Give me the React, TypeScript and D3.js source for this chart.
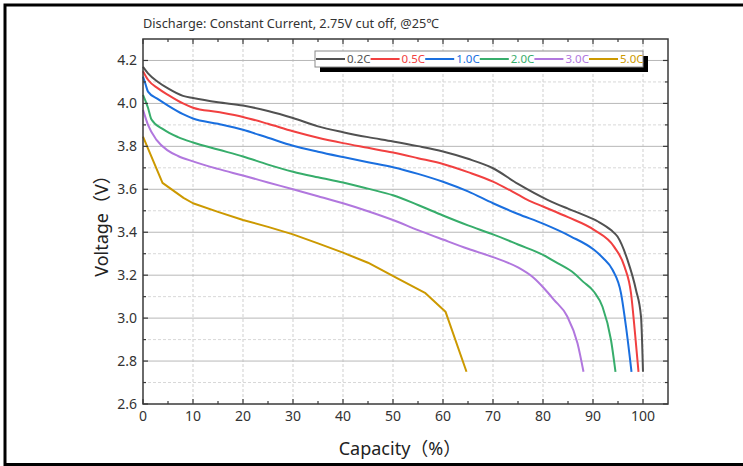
import { useEffect, useRef } from 'react'
import * as d3 from 'd3'

type Pt = [number, number]

// discharge curves, [capacity %, voltage V]
const rate02: Pt[] = [
  [0, 4.17], [1, 4.14], [3, 4.1], [5, 4.07], [8, 4.035], [10, 4.025], [15, 4.005], [20, 3.99],
  [25, 3.965], [30, 3.932], [35, 3.893], [40, 3.866], [45, 3.843], [50, 3.823], [55, 3.801],
  [60, 3.776], [65, 3.742], [70, 3.698], [75, 3.625], [80.9, 3.551], [85, 3.51], [88.2, 3.48],
  [91, 3.45], [93.6, 3.41], [94.9, 3.38], [96.9, 3.271], [98.6, 3.131], [99.6, 3.007], [100, 2.75],
]
const rate05: Pt[] = [
  [0, 4.15], [1, 4.11], [3, 4.07], [5, 4.04], [8, 4.0], [10, 3.98], [15, 3.96], [20, 3.937],
  [25, 3.905], [30, 3.87], [35, 3.84], [40, 3.815], [45, 3.793], [50, 3.771], [55, 3.745],
  [60, 3.718], [65, 3.68], [70, 3.636], [75, 3.575], [76.9, 3.551], [80, 3.52], [85, 3.47],
  [90.2, 3.411], [94.2, 3.333], [96.3, 3.24], [97.6, 3.116], [98.4, 2.93], [99.1, 2.75],
]
const rate10: Pt[] = [
  [0, 4.125], [0.5, 4.09], [1, 4.055], [3, 4.02], [5, 3.99], [8, 3.95], [10, 3.93], [15, 3.905],
  [20, 3.877], [25, 3.84], [30, 3.803], [35, 3.775], [40, 3.75], [45, 3.726], [50, 3.703],
  [55, 3.672], [60, 3.635], [65, 3.59], [70, 3.535], [75, 3.485], [80, 3.44], [85.6, 3.38],
  [90.2, 3.318], [92, 3.28], [93.9, 3.225], [95.6, 3.116], [96.6, 2.96], [97.7, 2.75],
]
const rate20: Pt[] = [
  [0, 4.04], [1, 3.98], [1.7, 3.925], [4, 3.88], [7, 3.843], [10, 3.818], [15, 3.785],
  [20, 3.753], [25, 3.715], [30, 3.682], [35, 3.656], [40, 3.632], [45, 3.603], [50, 3.572],
  [55, 3.527], [60, 3.478], [65, 3.432], [70, 3.39], [75, 3.343], [80, 3.295], [83, 3.255],
  [86.2, 3.209], [88, 3.17], [90.2, 3.123], [91.9, 3.053], [93.6, 2.898], [94.5, 2.75],
]
const rate30: Pt[] = [
  [0, 3.97], [1, 3.9], [2.7, 3.83], [5, 3.78], [7, 3.755], [10, 3.73], [15, 3.695], [20, 3.664],
  [25, 3.632], [30, 3.6], [35, 3.568], [40, 3.535], [45, 3.498], [50, 3.457], [55, 3.41],
  [60, 3.366], [65, 3.323], [70, 3.284], [75, 3.236], [78, 3.19], [80.2, 3.139],
  [82.2, 3.085], [84.8, 3.01], [86.9, 2.883], [88.1, 2.75],
]
const rate50: Pt[] = [
  [0, 3.845], [3.9, 3.63], [8.1, 3.56], [10, 3.535], [15, 3.495], [20, 3.457], [25, 3.425],
  [30, 3.39], [35, 3.348], [40, 3.305], [45, 3.258], [50.8, 3.186], [56.5, 3.116], [60.5, 3.03],
  [64.7, 2.75],
]

const seriesNames = ['0.2C', '0.5C', '1.0C', '2.0C', '3.0C', '5.0C']
const seriesData = [rate02, rate05, rate10, rate20, rate30, rate50]
const seriesColors = ['#515151', '#F14040', '#1A6FDF', '#37AD6B', '#B177DE', '#CC9900']

const xMajorTicks = d3.range(0, 101, 10)
const xMinorTicks = d3.range(5, 101, 10)
const yMajorTicks = [2.6, 2.8, 3.0, 3.2, 3.4, 3.6, 3.8, 4.0, 4.2]
const yMinorTicks = [2.7, 2.9, 3.1, 3.3, 3.5, 3.7, 3.9, 4.1]

const titleText = 'Discharge: Constant Current, 2.75V cut off, @25℃'
const xTitle = 'Capacity（%）'
const yTitle = 'Voltage（V）'

const FONT = '"Noto Sans", "Open Sans", "Noto Sans CJK SC", sans-serif'

function DischargeChart() {
  const svgRef = useRef<SVGSVGElement>(null)
  const width = 743
  const height = 466

  useEffect(() => {
    if (!svgRef.current) return
    const svg = d3.select(svgRef.current)
    svg.selectAll('*').remove()

    const margin = { top: 39, right: 75, bottom: 62, left: 143 }
    const innerWidth = width - margin.left - margin.right
    const innerHeight = height - margin.top - margin.bottom

    const x = d3.scaleLinear().domain([0, 105]).range([0, innerWidth])
    const y = d3.scaleLinear().domain([2.6, 4.3]).range([innerHeight, 0])

    // outer black frame
    svg
      .append('rect')
      .attr('x', 5)
      .attr('y', 5)
      .attr('width', width + 20)
      .attr('height', 459.5)
      .attr('fill', 'white')
      .attr('stroke', '#000')
      .attr('stroke-width', 3)

    svg
      .append('text')
      .attr('x', margin.left)
      .attr('y', 28)
      .attr('font-family', FONT)
      .attr('font-size', 13)
      .attr('fill', '#333')
      .attr('textLength', 296)
      .attr('lengthAdjust', 'spacingAndGlyphs')
      .text(titleText)

    const g = svg.append('g').attr('transform', `translate(${margin.left},${margin.top})`)

    // grid
    g.append('g')
      .selectAll('line')
      .data(xMajorTicks.filter((d) => d > 0))
      .join('line')
      .attr('x1', (d) => x(d))
      .attr('x2', (d) => x(d))
      .attr('y1', 0)
      .attr('y2', innerHeight)
      .attr('stroke', '#cfcfcf')
      .attr('stroke-dasharray', '3,2')
    g.append('g')
      .selectAll('line')
      .data(yMinorTicks)
      .join('line')
      .attr('x1', 0)
      .attr('x2', innerWidth)
      .attr('y1', (d) => y(d))
      .attr('y2', (d) => y(d))
      .attr('stroke', '#d8d8d8')
      .attr('stroke-dasharray', '3,2')
    g.append('g')
      .selectAll('line')
      .data(yMajorTicks.filter((d) => d > 2.6))
      .join('line')
      .attr('x1', 0)
      .attr('x2', innerWidth)
      .attr('y1', (d) => y(d))
      .attr('y2', (d) => y(d))
      .attr('stroke', '#b8b8b8')

    // curves: smooth for the lower rates, the 5.0C trace keeps its corners
    const smooth = d3
      .line<Pt>()
      .x((d) => x(d[0]))
      .y((d) => y(d[1]))
      .curve(d3.curveMonotoneX)
    const straight = d3
      .line<Pt>()
      .x((d) => x(d[0]))
      .y((d) => y(d[1]))

    seriesData.forEach((data, i) => {
      g.append('path')
        .datum(data)
        .attr('d', i === seriesData.length - 1 ? straight : smooth)
        .attr('fill', 'none')
        .attr('stroke', seriesColors[i])
        .attr('stroke-width', 2)
        .attr('stroke-linejoin', 'round')
    })

    // axis frame + inward ticks
    const axisColor = '#3a3a3a'
    g.append('rect')
      .attr('width', innerWidth)
      .attr('height', innerHeight)
      .attr('fill', 'none')
      .attr('stroke', axisColor)
      .attr('stroke-width', 1.5)

    const ticks = g.append('g').attr('stroke', axisColor).attr('stroke-width', 1.2)
    const xTickList = [
      ...xMajorTicks.map((v) => ({ v, len: 5 })),
      ...xMinorTicks.map((v) => ({ v, len: 3 })),
    ]
    xTickList.forEach(({ v, len }) => {
      ticks.append('line').attr('x1', x(v)).attr('x2', x(v)).attr('y1', innerHeight).attr('y2', innerHeight - len)
      ticks.append('line').attr('x1', x(v)).attr('x2', x(v)).attr('y1', 0).attr('y2', len)
    })
    const yTickList = [
      ...yMajorTicks.map((v) => ({ v, len: 5 })),
      ...yMinorTicks.map((v) => ({ v, len: 3 })),
    ]
    yTickList.forEach(({ v, len }) => {
      ticks.append('line').attr('x1', 0).attr('x2', len).attr('y1', y(v)).attr('y2', y(v))
      ticks.append('line').attr('x1', innerWidth).attr('x2', innerWidth - len).attr('y1', y(v)).attr('y2', y(v))
    })

    // tick labels
    g.append('g')
      .selectAll('text')
      .data(xMajorTicks)
      .join('text')
      .attr('x', (d) => x(d))
      .attr('y', innerHeight + 17)
      .attr('text-anchor', 'middle')
      .attr('font-family', FONT)
      .attr('font-size', 14)
      .attr('fill', '#333')
      .text((d) => d3.format('d')(d))
    g.append('g')
      .selectAll('text')
      .data(yMajorTicks)
      .join('text')
      .attr('x', -6)
      .attr('y', (d) => y(d))
      .attr('dy', '0.33em')
      .attr('text-anchor', 'end')
      .attr('font-family', FONT)
      .attr('font-size', 14)
      .attr('fill', '#333')
      .text((d) => d3.format('.1f')(d))

    // axis titles
    svg
      .append('text')
      .attr('x', 400)
      .attr('y', 455)
      .attr('text-anchor', 'middle')
      .attr('font-family', FONT)
      .attr('font-size', 18)
      .attr('fill', '#222')
      .text(xTitle)
    svg
      .append('text')
      .attr('transform', `translate(108,${margin.top + innerHeight / 2}) rotate(-90)`)
      .attr('text-anchor', 'middle')
      .attr('font-family', FONT)
      .attr('font-size', 18)
      .attr('fill', '#222')
      .text(yTitle)

    // legend
    const lgX = 315
    const lgY = 51
    const lgW = 328
    const lgH = 16
    const step = 54.6
    svg.append('rect').attr('x', lgX + 5).attr('y', lgY + 5).attr('width', lgW).attr('height', lgH).attr('fill', '#000')
    svg
      .append('rect')
      .attr('x', lgX)
      .attr('y', lgY)
      .attr('width', lgW)
      .attr('height', lgH)
      .attr('fill', '#fff')
      .attr('stroke', '#8a8a8a')
      .attr('stroke-width', 1)
    seriesNames.forEach((name, i) => {
      const sx = lgX + 1 + i * step
      svg
        .append('line')
        .attr('x1', sx)
        .attr('x2', sx + 29)
        .attr('y1', lgY + lgH / 2)
        .attr('y2', lgY + lgH / 2)
        .attr('stroke', seriesColors[i])
        .attr('stroke-width', 2)
      svg
        .append('text')
        .attr('x', sx + 31)
        .attr('y', lgY + lgH / 2)
        .attr('dy', '0.36em')
        .attr('font-family', FONT)
        .attr('font-size', 11.5)
        .attr('fill', seriesColors[i])
        .text(name)
    })
  }, [])

  return (
    <svg
      ref={svgRef}
      width={width}
      height={height}
      style={{ position: 'absolute', left: 0, top: 0, display: 'block', background: '#fff' }}
    />
  )
}

export default function App() {
  return <DischargeChart />
}
